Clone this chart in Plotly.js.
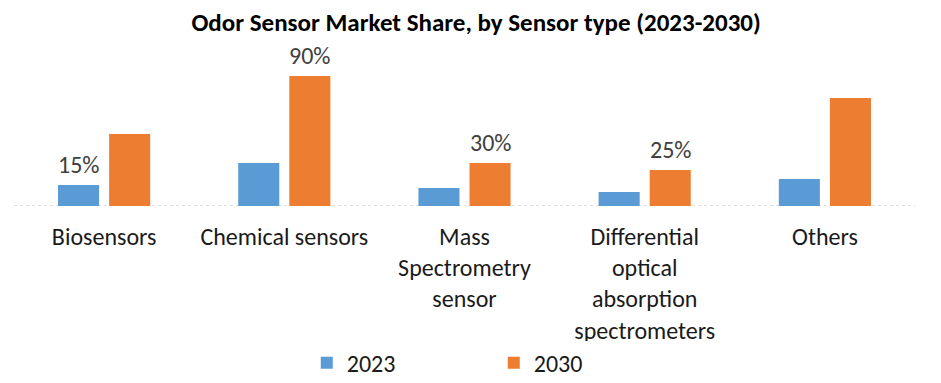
<!DOCTYPE html>
<html>
<head>
<meta charset="utf-8">
<script src="https://cdn.plot.ly/plotly-3.0.1.min.js"></script>
<style>html,body{margin:0;padding:0;background:#fff;}#chart{width:941px;height:383px;}</style>
</head>
<body>
<div id="chart"></div>
<script>
// Data
const categories = ["Biosensors", "Chemical sensors", "Mass<br>Spectrometry<br>sensor", "Differential<br>optical<br>absorption<br>spectrometers", "Others"];
const series2023 = [2.1, 4.3, 1.8, 1.4, 2.7];
const series2030 = [7.2, 13.0, 4.3, 3.6, 10.8];
const labels2023 = ["15%", "", "", "", ""];
const labels2030 = ["", "90%", "30%", "25%", ""];
const seriesNames = ["2023", "2030"];

const FONT = "Carlito, Lato, 'Open Sans', sans-serif";

const traces = [
  {type: "bar", name: seriesNames[0], x: categories, y: series2023, marker: {color: "#5B9BD5"}, hoverinfo: "none"},
  {type: "bar", name: seriesNames[1], x: categories, y: series2030, marker: {color: "#ED7D31"}, hoverinfo: "none"}
];

const annotations = [];
function addLabels(vals, labs, shift) {
  labs.forEach((t, i) => {
    if (!t) return;
    annotations.push({x: categories[i], y: vals[i], xref: "x", yref: "y", text: t, showarrow: false,
      xshift: shift, yanchor: "bottom", yshift: 4, font: {family: FONT, size: 24, color: "#404040"}});
  });
}
addLabels(series2023, labels2023, -25.5);
addLabels(series2030, labels2030, 25.5);

const layout = {
  width: 941, height: 383,
  margin: {l: 14, r: 26, t: 56, b: 177},
  paper_bgcolor: "#fff", plot_bgcolor: "#fff",
  font: {family: FONT, color: "#1a1a1a"},
  title: {text: "<b>Odor Sensor Market Share, by Sensor type (2023-2030)</b>", font: {family: FONT, size: 25, color: "#000"},
    x: 0.506, xref: "container", xanchor: "center", y: 0.943, yref: "container", yanchor: "middle"},
  barmode: "group", bargap: 0.433, bargroupgap: 0.196,
  xaxis: {type: "category", showgrid: false, showline: false, zeroline: false, ticks: "",
    tickfont: {family: FONT, size: 24, color: "#1a1a1a"}, ticklabelstandoff: 14, tickangle: 0},
  yaxis: {range: [0, 15], visible: false, showgrid: false, zeroline: false},
  shapes: [{type: "line", xref: "paper", yref: "y", x0: 0, x1: 1, y0: 0, y1: 0, line: {color: "#BFBFBF", width: 1, dash: "dot"}, layer: "below"}],
  annotations: annotations,
  showlegend: true,
  legend: {orientation: "h", xref: "container", yref: "container", x: 0.326, xanchor: "left", y: 0.052, yanchor: "middle",
    font: {family: FONT, size: 24, color: "#1a1a1a"}, entrywidth: 142, itemwidth: 30}
};

Plotly.newPlot("chart", traces, layout, {displayModeBar: false, staticPlot: true});
</script>
</body>
</html>
